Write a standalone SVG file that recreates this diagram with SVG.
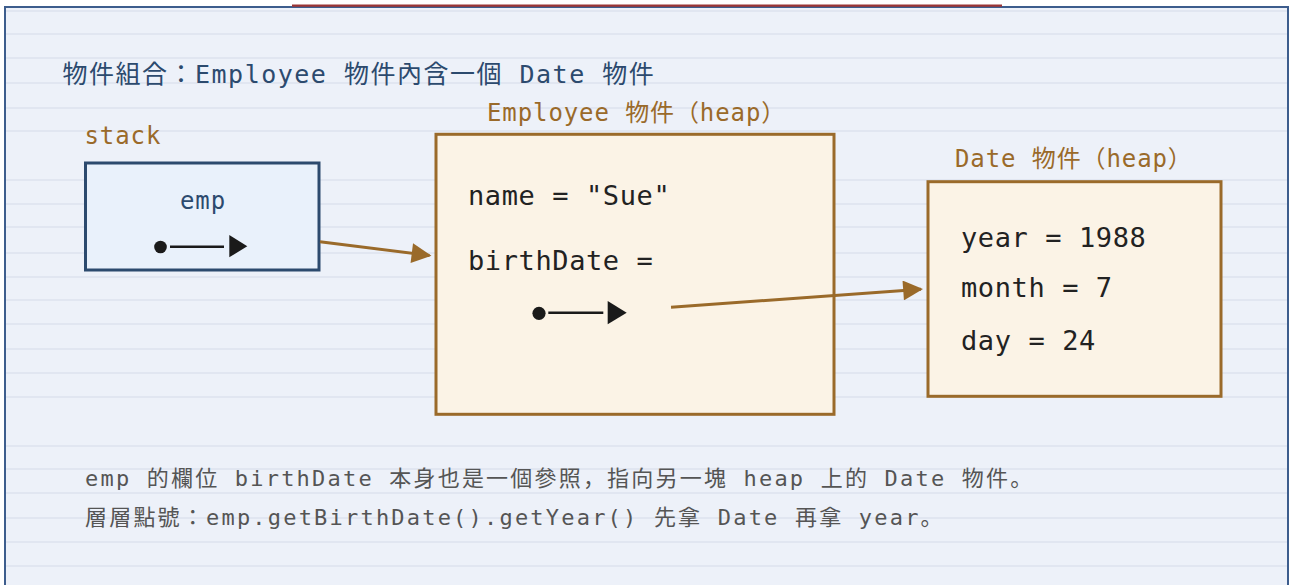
<svg xmlns="http://www.w3.org/2000/svg" width="1290" height="585" viewBox="0 0 1290 585">
<style>
.mono{font-family:"DejaVu Sans Mono","Noto Sans CJK JP",monospace;}
.title{font-size:25px;fill:#2c4a6e;letter-spacing:1.5px;}
.lbl{font-size:24px;fill:#9a6a2a;letter-spacing:0.9px;}
.fld{font-size:27px;fill:#222;letter-spacing:0.6px;}
.note{font-size:22px;fill:#555;letter-spacing:2.2px;}
.rule{stroke:#e1e6f1;stroke-width:2;}
.heap{fill:#fbf3e6;stroke:#9a6a2a;stroke-width:3;}
.conn{stroke:#9a6a2a;stroke-width:3;fill:none;}
.pl{stroke:#1a1a1a;stroke-width:2.5;}
.pf{fill:#1a1a1a;}
</style>
<defs>
<marker id="ah" viewBox="0 0 10 10" refX="9" refY="5" markerWidth="7" markerHeight="6.6" markerUnits="strokeWidth" orient="auto">
<path d="M0,0 L10,5 L0,10 z" fill="#9a6a2a"/>
</marker>
</defs>
<rect x="0" y="0" width="1290" height="585" fill="#ffffff"/>
<rect x="5" y="7" width="1283" height="600" fill="#edf1f9" stroke="#3d5d8d" stroke-width="2"/>
<g id="rules">
<line class="rule" x1="6" x2="1287" y1="11" y2="11"/>
<line class="rule" x1="6" x2="1287" y1="34" y2="34"/>
<line class="rule" x1="6" x2="1287" y1="58" y2="58"/>
<line class="rule" x1="6" x2="1287" y1="83" y2="83"/>
<line class="rule" x1="6" x2="1287" y1="108" y2="108"/>
<line class="rule" x1="6" x2="1287" y1="131" y2="131"/>
<line class="rule" x1="6" x2="1287" y1="180" y2="180"/>
<line class="rule" x1="6" x2="1287" y1="204" y2="204"/>
<line class="rule" x1="6" x2="1287" y1="227" y2="227"/>
<line class="rule" x1="6" x2="1287" y1="253" y2="253"/>
<line class="rule" x1="6" x2="1287" y1="277" y2="277"/>
<line class="rule" x1="6" x2="1287" y1="300" y2="300"/>
<line class="rule" x1="6" x2="1287" y1="324" y2="324"/>
<line class="rule" x1="6" x2="1287" y1="349" y2="349"/>
<line class="rule" x1="6" x2="1287" y1="373" y2="373"/>
<line class="rule" x1="6" x2="1287" y1="397" y2="397"/>
<line class="rule" x1="6" x2="1287" y1="446" y2="446"/>
<line class="rule" x1="6" x2="1287" y1="469" y2="469"/>
<line class="rule" x1="6" x2="1287" y1="493" y2="493"/>
<line class="rule" x1="6" x2="1287" y1="518" y2="518"/>
<line class="rule" x1="6" x2="1287" y1="542" y2="542"/>
<line class="rule" x1="6" x2="1287" y1="566" y2="566"/>
</g>
<line x1="292" y1="5.6" x2="1002" y2="5.6" stroke="#9c3535" stroke-width="2.4"/>
<text class="mono title" x="62.5" y="83">物件組合：Employee 物件內含一個 Date 物件</text>
<g id="stack">
<text class="mono lbl" x="84.5" y="144">stack</text>
<rect x="85.5" y="163" width="233.5" height="107" fill="#e9f1fb" stroke="#2c4a6e" stroke-width="3"/>
<text class="mono lbl" x="203" y="209.3" text-anchor="middle" style="fill:#2c4a6e">emp</text>
<circle class="pf" cx="160.5" cy="247" r="6.3"/>
<line class="pl" x1="170" y1="246.8" x2="224" y2="246.8"/>
<polygon class="pf" points="229.3,235 247.3,246.2 229.3,257.3"/>
</g>
<g id="employee">
<text class="mono lbl" x="487" y="120.5">Employee 物件（heap）</text>
<rect class="heap" x="436" y="134.3" width="398" height="280"/>
<text class="mono fld" x="468" y="205">name = "Sue"</text>
<text class="mono fld" x="468" y="270">birthDate =</text>
<circle class="pf" cx="539" cy="313.3" r="6.6"/>
<line class="pl" x1="548.3" y1="312.7" x2="603.3" y2="312.7"/>
<polygon class="pf" points="607.7,301 626.7,312.7 607.7,324.3"/>
</g>
<g id="date">
<text class="mono lbl" x="955" y="166.7">Date 物件（heap）</text>
<rect class="heap" x="928" y="181.7" width="293" height="214.6"/>
<text class="mono fld" x="961" y="246.7">year = 1988</text>
<text class="mono fld" x="961" y="297.3">month = 7</text>
<text class="mono fld" x="961" y="350">day = 24</text>
</g>
<g id="connectors">
<line class="conn" x1="320" y1="241.7" x2="429.5" y2="255.4" marker-end="url(#ah)"/>
<line class="conn" x1="671" y1="307.3" x2="921" y2="289.2" marker-end="url(#ah)"/>
</g>
<text class="mono note" x="85" y="486">emp 的欄位 birthDate 本身也是一個參照，指向另一塊 heap 上的 Date 物件。</text>
<text class="mono note" x="85" y="525">層層點號：emp.getBirthDate().getYear() 先拿 Date 再拿 year。</text>
</svg>
